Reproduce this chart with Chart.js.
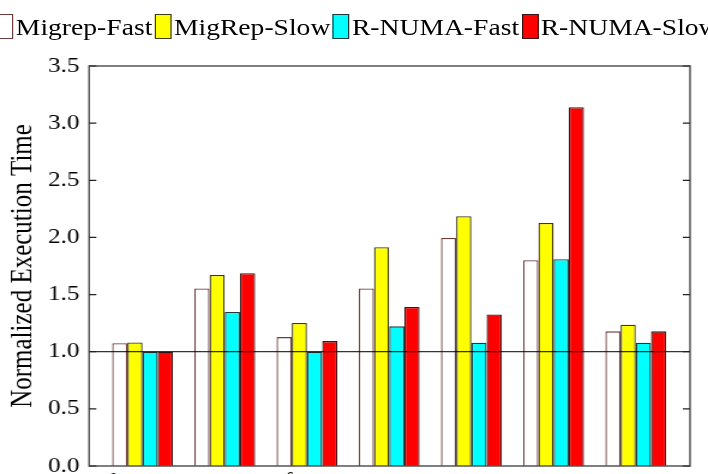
<!DOCTYPE html>
<html>
<head>
<meta charset="utf-8">
<script src="https://cdn.jsdelivr.net/npm/chart.js@4/dist/chart.umd.min.js"></script>
<style>
  html, body { margin: 0; padding: 0; background: #fff; overflow: hidden; width: 708px; height: 474px; }
  #wrap { position: absolute; left: 0; top: 0; width: 590px; height: 498px; transform: scaleX(1.2); transform-origin: 0 0; }
  #legend { position: absolute; left: 3px; top: 13px; width: 590px; height: 26px; display: flex; justify-content: center; white-space: nowrap; font-family: "Liberation Serif", "Times New Roman", serif; font-size: 23px; line-height: 26px; color: #000; }
  .item { display: flex; align-items: flex-end; margin-right: 2px; flex: none; }
  .item:last-child { margin-right: 0; }
  .box { width: 12px; height: 23px; border: 1px solid #333; margin-right: 2px; flex: none; }
  .lbl { position: relative; top: 2px; }
  canvas { position: absolute; left: 0; top: 0; }
</style>
</head>
<body>
<div id="wrap">
  <canvas id="c" width="590" height="498"></canvas>
  <div id="legend"></div>
</div>
<script>
const categories = ["barnes", "ocean", "fmm", "raytrace", "water", "appsp", "average"];
const seriesNames = ["Migrep-Fast", "MigRep-Slow", "R-NUMA-Fast", "R-NUMA-Slow"];
const migrepFast = [1.075, 1.554, 1.128, 1.554, 1.995, 1.80, 1.178];
const migrepSlow = [1.08, 1.671, 1.251, 1.915, 2.185, 2.127, 1.237];
const rnumaFast  = [1.0, 1.348, 1.0, 1.222, 1.078, 1.81, 1.078];
const rnumaSlow  = [1.0, 1.686, 1.093, 1.392, 1.325, 3.14, 1.178];
const yTicks = [0, 0.5, 1.0, 1.5, 2.0, 2.5, 3.0, 3.5];
const referenceLine = 1.0;

const fills = ["#ffffff", "#ffff00", "#00ffff", "#ff0000"];
const borders = ["#6e3b3b", "#3d3a1a", "#1f3a3a", "#3a1515"];
const seriesValues = [migrepFast, migrepSlow, rnumaFast, rnumaSlow];

const framePlugin = {
  id: 'frame',
  afterDatasetsDraw(chart) {
    const { ctx, chartArea: { left, right, top, bottom }, scales: { y } } = chart;
    ctx.save();
    const y1 = y.getPixelForValue(referenceLine);
    ctx.strokeStyle = '#000';
    ctx.lineWidth = 1;
    ctx.beginPath(); ctx.moveTo(left, y1); ctx.lineTo(right, y1); ctx.stroke();
    ctx.strokeStyle = '#555';
    ctx.lineWidth = 1.5;
    ctx.strokeRect(left, top, right - left, bottom - top);
    ctx.strokeStyle = '#222';
    ctx.lineWidth = 1.2;
    y.ticks.forEach(t => {
      const py = y.getPixelForValue(t.value);
      ctx.beginPath();
      ctx.moveTo(left, py); ctx.lineTo(left + 6, py);
      ctx.moveTo(right, py); ctx.lineTo(right - 6, py);
      ctx.stroke();
    });
    ctx.restore();
  }
};

const chart = new Chart(document.getElementById('c'), {
  type: 'bar',
  data: {
    labels: categories,
    datasets: seriesNames.map((name, i) => ({
      label: name,
      data: seriesValues[i],
      backgroundColor: fills[i],
      borderColor: borders[i],
      borderWidth: 1.3,
      barPercentage: 1.0,
      categoryPercentage: 0.74
    }))
  },
  options: {
    responsive: false,
    animation: false,
    devicePixelRatio: 1,
    layout: { padding: { left: 4, right: 15, top: 66, bottom: 0 } },
    plugins: { legend: { display: false }, tooltip: { enabled: false } },
    scales: {
      x: {
        type: 'category',
        offset: true,
        grid: { display: false, drawTicks: false },
        border: { display: false },
        afterBuildTicks: (scale) => { scale._startValue = -0.65; scale._valueRange = 7.31; },
        ticks: { color: '#000', padding: 4, font: { family: 'Liberation Serif', size: 20 }, maxRotation: 0, autoSkip: false }
      },
      y: {
        min: 0, max: 3.5,
        afterBuildTicks: (scale) => { scale.ticks = yTicks.map(v => ({ value: v })); },
        grid: { display: false, drawTicks: false },
        border: { display: false },
        ticks: { color: '#000', padding: 8, font: { family: 'Liberation Serif', size: 21 }, callback: v => Number(v).toFixed(1) },
        title: { display: true, text: 'Normalized Execution Time', color: '#000', font: { family: 'Liberation Serif', size: 25, weight: 'normal' }, padding: { top: 0, bottom: -2 } }
      }
    }
  },
  plugins: [framePlugin]
});

const legend = document.getElementById('legend');
chart.data.datasets.forEach(ds => {
  const item = document.createElement('div');
  item.className = 'item';
  const box = document.createElement('span');
  box.className = 'box';
  box.style.background = ds.backgroundColor;
  box.style.borderColor = ds.borderColor;
  const lbl = document.createElement('span');
  lbl.className = 'lbl';
  lbl.textContent = ds.label;
  item.appendChild(box); item.appendChild(lbl);
  legend.appendChild(item);
});
</script>
</body>
</html>
